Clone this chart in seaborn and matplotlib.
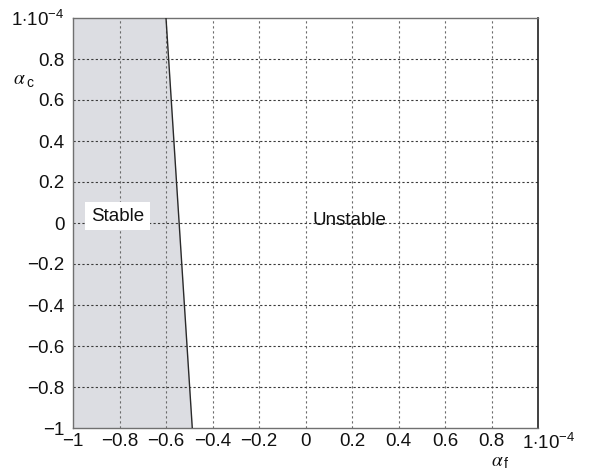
import matplotlib
matplotlib.use("Agg")
import matplotlib.pyplot as plt
import matplotlib.transforms as mtransforms
import seaborn as sns
import pandas as pd

# Data (units of 1e-4)
boundary_af = [-0.6, -0.487]
boundary_ac = [1.0, -1.0]
xticks = [-1, -0.8, -0.6, -0.4, -0.2, 0, 0.2, 0.4, 0.6, 0.8, 1]
xticklabels = ["\u22121", "\u22120.8", "\u22120.6", "\u22120.4", "\u22120.2", "0",
               "0.2", "0.4", "0.6", "0.8", r"1$\cdot$10$^{-4}$"]
yticks = [-1, -0.8, -0.6, -0.4, -0.2, 0, 0.2, 0.4, 0.6, 0.8, 1]
yticklabels = ["\u22121", "\u22120.8", "\u22120.6", "\u22120.4", "\u22120.2", "0",
               "0.2", "0.4", "0.6", "0.8", r"1$\cdot$10$^{-4}$"]
region_labels = ["Stable", "Unstable"]
region_x = [-0.809, 0.189]
region_y = [0.034, 0.01]
axis_subscripts = ["c", "f"]

sns.set_theme(style="white")
plt.rcParams["font.family"] = ["Liberation Sans", "DejaVu Sans"]
plt.rcParams["mathtext.fontset"] = "custom"
plt.rcParams["mathtext.rm"] = "Liberation Sans"
plt.rcParams["mathtext.it"] = "Liberation Sans:italic"

FS = 13.5

fig = plt.figure(figsize=(5.91, 4.73), dpi=100)
ax = fig.add_axes([73 / 591, 1 - 428 / 473, (538 - 73) / 591, (428 - 18) / 473])

df = pd.DataFrame({"af": boundary_af, "ac": boundary_ac})
ax.fill_betweenx(df["ac"], -1, df["af"], color="#dcdde2", lw=0, zorder=0)

# grid
for xv in xticks[1:-1]:
    ax.axvline(xv, color="#6a6a6a", lw=0.8, ls=(0, (2, 2.5)), zorder=1)
for yv in yticks[1:-1]:
    ax.axhline(yv, color="#3a3a3a", lw=0.8, ls=(0, (2, 2)), zorder=1)

sns.lineplot(data=df, x="af", y="ac", sort=False, color="#2a2a2a", lw=1.0, ax=ax, zorder=3)

ax.text(region_x[0], region_y[0], region_labels[0], ha="center", va="center", fontsize=FS,
        color="#111111", zorder=4,
        bbox=dict(boxstyle="square,pad=0.3", fc="white", ec="none"))
ax.text(region_x[1], region_y[1], region_labels[1], ha="center", va="center", fontsize=FS,
        color="#111111", zorder=4)

ax.set_xlim(-1, 1)
ax.set_ylim(-1, 1)
ax.set_xticks(xticks)
ax.set_xticklabels(xticklabels)
ax.set_yticks(yticks)
ax.set_yticklabels(yticklabels)
ax.tick_params(axis="both", length=0, labelsize=FS, colors="#111111")
ax.tick_params(axis="y", pad=6)
ax.tick_params(axis="x", pad=3.5)
ax.set_xlabel("")
ax.set_ylabel("")

# shift the last x tick label (1·10^-4)
lab = ax.get_xticklabels()[-1]
lab.set_horizontalalignment("left")
lab.set_transform(lab.get_transform() + mtransforms.ScaledTranslation(-16 / 100, 0, fig.dpi_scale_trans))

for side in ["left", "top", "bottom"]:
    ax.spines[side].set_color("#707070")
    ax.spines[side].set_linewidth(1.0)
ax.spines["right"].set_color("#202020")
ax.spines["right"].set_linewidth(1.2)

# axis labels: italic serif alpha with upright sans subscript
for (px, py), sub in zip([(19, 80), (497, 461)], axis_subscripts):
    fig.text(px / 591, 1 - py / 473, r"$\alpha$", ha="center", va="center", fontsize=14,
             color="#111111", math_fontfamily="stix")
    fig.text((px + 7) / 591, 1 - (py + 3) / 473, sub, ha="left", va="center", fontsize=10,
             color="#111111")

fig.savefig("out.png", dpi=100)
